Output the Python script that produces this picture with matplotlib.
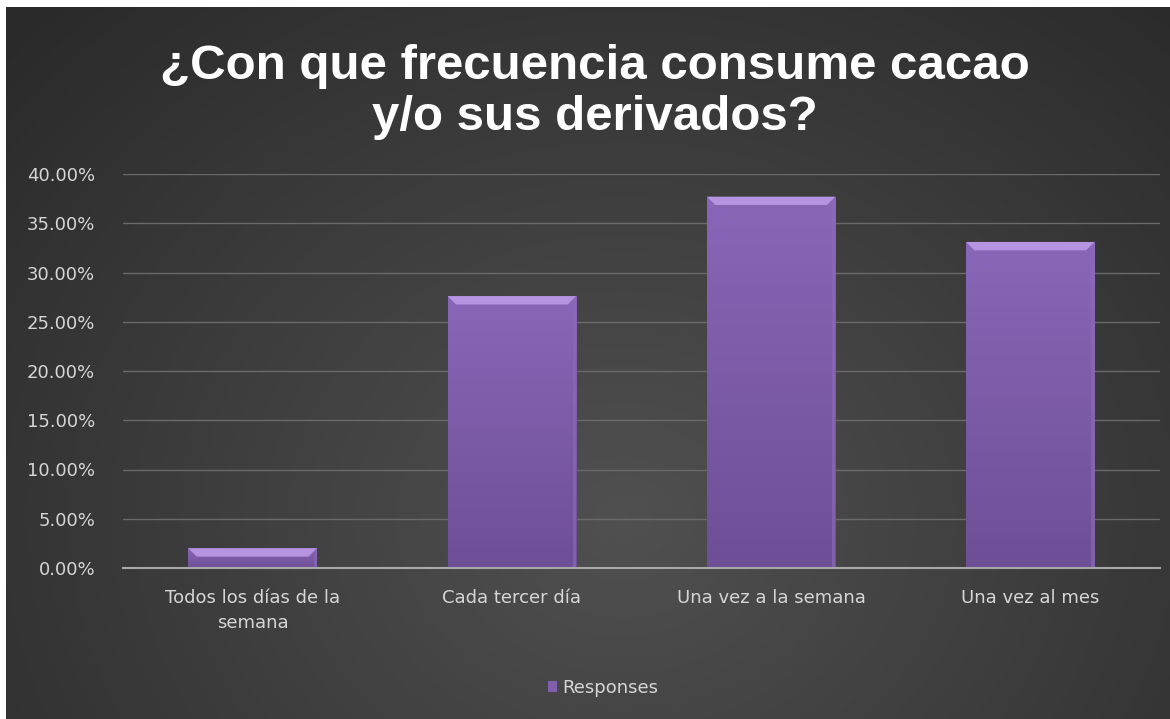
import numpy as np
import matplotlib
matplotlib.use("Agg")
import matplotlib.pyplot as plt
from matplotlib.patches import Polygon
from matplotlib.ticker import PercentFormatter

categories = ["Todos los días de la\nsemana", "Cada tercer día",
              "Una vez a la semana", "Una vez al mes"]
responses = [0.020, 0.276, 0.377, 0.331]
yticks = [0.0, 0.05, 0.10, 0.15, 0.20, 0.25, 0.30, 0.35, 0.40]
title = "¿Con que frecuencia consume cacao\ny/o sus derivados?"
series_name = "Responses"

W, H = 1170, 719
fig = plt.figure(figsize=(W / 100, H / 100), dpi=100, facecolor="white")

# dark radial-gradient backdrop, brightest a little below the centre
bg = fig.add_axes([6 / W, 0, 1 - 6 / W, 1 - 7 / H])
yy, xx = np.mgrid[0:1:300j, 0:1:500j]
r = np.sqrt(((xx - 0.53) / 0.72) ** 2 + ((yy - 0.72) / 1.0) ** 2)
shade = np.clip(0.315 - 0.15 * r, 0.165, 0.32)
bg.imshow(np.dstack([shade] * 3), extent=[0, 1, 0, 1], aspect="auto",
          interpolation="bicubic")
bg.set_axis_off()

ax = fig.add_axes([123 / W, (H - 568) / H, (1160 - 123) / W, (568 - 174) / H])
ax.set_facecolor("none")
x = np.arange(len(categories))
bars = ax.bar(x, responses, width=0.495, color="#7f5fae", zorder=3)

# shaded fill and bevelled top on each bar
grad = np.linspace(0, 1, 100)[:, None]
top_c = np.array([0.54, 0.40, 0.72])
bot_c = np.array([0.43, 0.31, 0.59])
for b in bars:
    x0, w, h = b.get_x(), b.get_width(), b.get_height()
    img = top_c * (1 - grad[..., None]) + bot_c * grad[..., None]
    img = np.repeat(img, 10, axis=1)
    im = ax.imshow(img, extent=[x0, x0 + w, 0, h], aspect="auto", zorder=4,
                   interpolation="bicubic")
    im.set_clip_path(b)
    dx, dy = 0.032, min(0.0085, h * 0.5)
    ax.add_patch(Polygon([(x0, h), (x0 + w, h), (x0 + w - dx, h - dy),
                          (x0 + dx, h - dy)], closed=True,
                         facecolor="#b694e2", edgecolor="none", zorder=5))
    ax.add_patch(Polygon([(x0 + w, h), (x0 + w, 0), (x0 + w - 0.012, 0),
                          (x0 + w - 0.012, h - dy)], closed=True,
                         facecolor="#8d6bbb", edgecolor="none", zorder=5,
                         alpha=0.6))

ax.set_xlim(-0.5, len(categories) - 0.5)
ax.set_ylim(0, 0.40)
ax.set_yticks(yticks)
ax.yaxis.set_major_formatter(PercentFormatter(1.0, decimals=2))
ax.set_xticks(x)
ax.set_xticklabels(categories, linespacing=1.5)
ax.grid(axis="y", color="#6a6a6a", linewidth=1.0, zorder=0)
ax.set_axisbelow(True)
for s in ["top", "right", "left"]:
    ax.spines[s].set_visible(False)
ax.spines["bottom"].set_color("#a8a8a8")
ax.spines["bottom"].set_linewidth(1.5)
ax.spines["bottom"].set_zorder(6)
ax.tick_params(axis="both", length=0, colors="#d9d9d9", labelsize=13)
ax.tick_params(axis="y", pad=20)
ax.tick_params(axis="x", pad=15)
for lab in ax.get_xticklabels() + ax.get_yticklabels():
    lab.set_fontfamily("DejaVu Sans")
    lab.set_color("#d6d6d6")

fig.text(595 / W, 1 - 92 / H, title, ha="center", va="center",
         fontsize=35.5, fontweight="bold", color="white",
         family="Liberation Sans", linespacing=1.16)

leg = fig.legend([bars], [series_name], loc="center",
                 bbox_to_anchor=(603 / W, 1 - 688 / H), frameon=False,
                 handlelength=0.5, handleheight=0.5, handletextpad=0.3,
                 prop={"family": "DejaVu Sans", "size": 13})
for t in leg.get_texts():
    t.set_color("#d6d6d6")

fig.savefig("out.png", dpi=100, facecolor="white")
